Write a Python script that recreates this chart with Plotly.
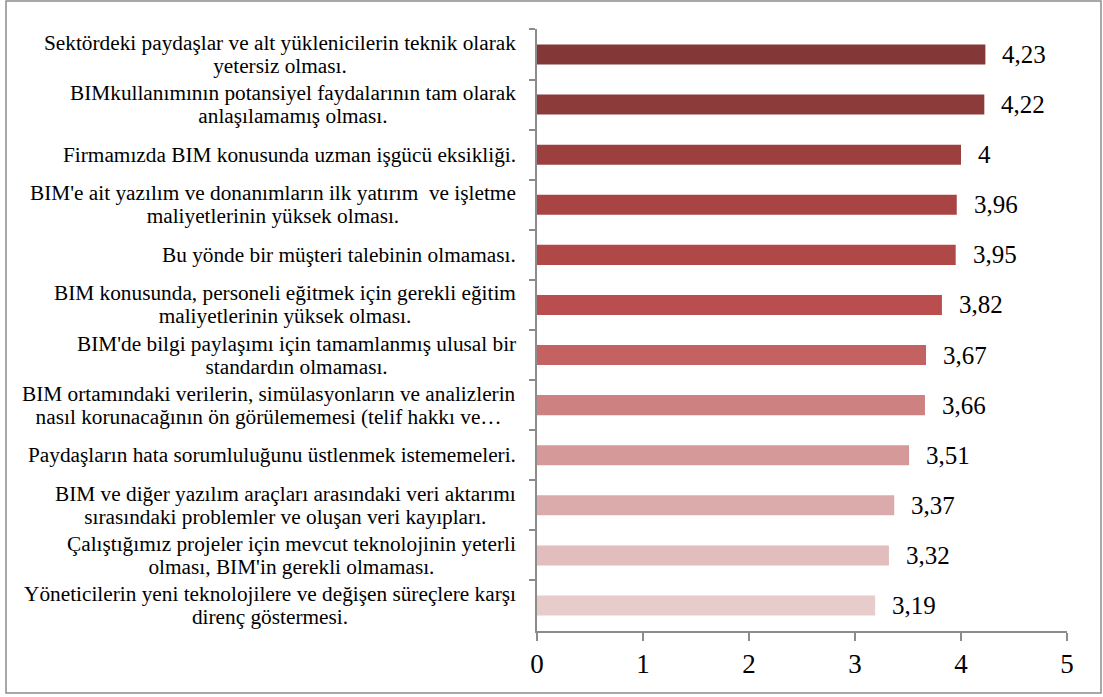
import plotly.graph_objects as go

categories = [
    "Sektördeki paydaşlar ve alt yüklenicilerin teknik olarak<br>yetersiz olması.",
    "BIMkullanımının potansiyel faydalarının tam olarak<br>anlaşılamamış olması.",
    "Firmamızda BIM konusunda uzman işgücü eksikliği.",
    "BIM'e ait yazılım ve donanımların ilk yatırım  ve işletme<br>maliyetlerinin yüksek olması.",
    "Bu yönde bir müşteri talebinin olmaması.",
    "BIM konusunda, personeli eğitmek için gerekli eğitim<br>maliyetlerinin yüksek olması.",
    "BIM'de bilgi paylaşımı için tamamlanmış ulusal bir<br>standardın olmaması.",
    "BIM ortamındaki verilerin, simülasyonların ve analizlerin<br>nasıl korunacağının ön görülememesi (telif hakkı ve…",
    "Paydaşların hata sorumluluğunu üstlenmek istememeleri.",
    "BIM ve diğer yazılım araçları arasındaki veri aktarımı<br>sırasındaki problemler ve oluşan veri kayıpları.",
    "Çalıştığımız projeler için mevcut teknolojinin yeterli<br>olması, BIM'in gerekli olmaması.",
    "Yöneticilerin yeni teknolojilere ve değişen süreçlere karşı<br>direnç göstermesi.",
]
values = [4.23, 4.22, 4.00, 3.96, 3.95, 3.82, 3.67, 3.66, 3.51, 3.37, 3.32, 3.19]
bar_colors = [
    "#843737", "#8D3A3A", "#9B3F3F", "#A84444", "#B04848", "#BA4D4D",
    "#C46262", "#CE8181", "#D59999", "#DBABAB", "#E2BDBD", "#E8CBCB",
]
x_ticks = [0, 1, 2, 3, 4, 5]

def fmt(v):
    s = f"{v:.2f}".rstrip("0").rstrip(".")
    return s.replace(".", ",")

def label_html(c):
    # glyphs at 21px, line pitch set by the (smaller) annotation font size
    return "<br>".join('<span style="font-size:21.3px">%s</span>' % part for part in c.split("<br>"))

FONT = "Liberation Serif, Times New Roman, serif"

W, H = 1103, 697
L, R, T, B = 537, 36, 29, 66
pw, ph = W - L - R, H - T - B

fig = go.Figure()
fig.add_trace(go.Bar(
    x=values, y=categories, orientation="h",
    marker=dict(color=bar_colors, line=dict(width=0)),
    width=0.4, hoverinfo="x+y",
))

annotations = []
for c, v in zip(categories, values):
    annotations.append(dict(
        x=v, y=c, xref="x", yref="y", text=fmt(v), showarrow=False,
        xanchor="left", yanchor="middle", xshift=15,
        font=dict(family=FONT, size=25, color="#000000"),
    ))
    annotations.append(dict(
        x=0, y=c, xref="paper", yref="y", text=label_html(c), showarrow=False,
        xanchor="right", yanchor="middle", xshift=-19, align="center",
        font=dict(family=FONT, size=17.7, color="#000000"),
    ))

fig.update_layout(
    width=W, height=H,
    margin=dict(l=L, r=R, t=T, b=B, pad=0),
    paper_bgcolor="white", plot_bgcolor="white",
    showlegend=False,
    annotations=annotations,
    shapes=[dict(
        type="rect", xref="paper", yref="paper",
        x0=(6 - L) / pw, x1=(1101 - L) / pw,
        y0=(H - B - 693) / ph, y1=(H - B - 1) / ph,
        line=dict(color="#8C8C8C", width=1.5), fillcolor="rgba(0,0,0,0)",
        layer="below",
    )],
    xaxis=dict(
        range=[0, 5], tickvals=x_ticks, ticktext=[str(t) for t in x_ticks],
        showgrid=False, zeroline=False,
        showline=True, linecolor="#8C8C8C", linewidth=1.5,
        ticks="outside", ticklen=8, tickcolor="#8C8C8C", tickwidth=1.5,
        tickfont=dict(family=FONT, size=27, color="#000000"),
    ),
    yaxis=dict(
        categoryorder="array", categoryarray=categories, autorange="reversed",
        showgrid=False, zeroline=False,
        showline=True, linecolor="#8C8C8C", linewidth=1.5,
        ticks="outside", ticklen=6, tickcolor="#8C8C8C", tickwidth=1.5,
        tickson="boundaries", showticklabels=False,
    ),
)

fig.write_html("out.html", config={"displayModeBar": False},
               post_script="document.body.style.margin='0';")
